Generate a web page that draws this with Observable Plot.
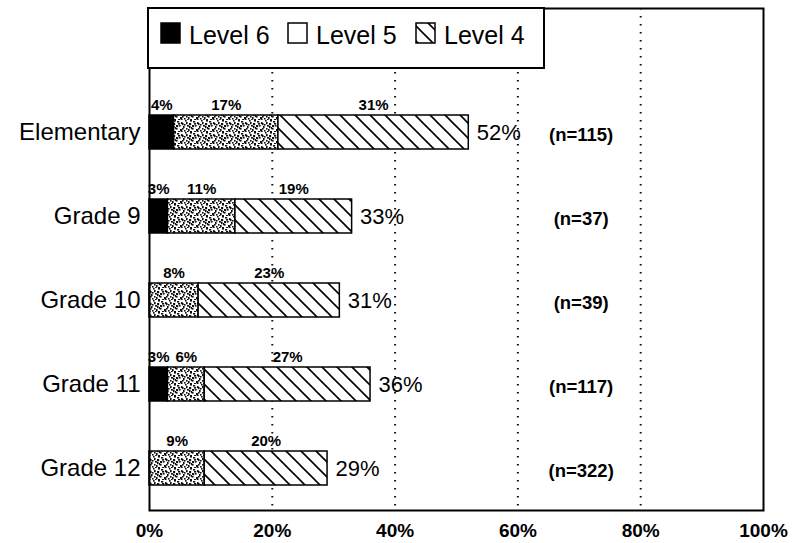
<!DOCTYPE html>
<html><head><meta charset="utf-8">
<script src="https://cdn.jsdelivr.net/npm/d3@7"></script>
<script src="https://cdn.jsdelivr.net/npm/@observablehq/plot@0.6"></script>
<style>body{margin:0;background:#fff} svg{font-family:"Liberation Sans",Arial,sans-serif}</style>
</head><body><div id="chart"></div>
<script>
const grades = ["Elementary","Grade 9","Grade 10","Grade 11","Grade 12"];
const levels = ["Level 6","Level 5","Level 4"];
const level6 = [4,3,0,3,0];
const level5 = [17,11,8,6,9];
const level4 = [31,19,23,27,20];
const totals = [52,33,31,36,29];
const counts = [115,37,39,117,322];
const xTicks = [0,20,40,60,80,100];
const gridTicks = [20,40,60,80];
const nColumnX = 70.3;

const rows = [];
grades.forEach((g,i)=>{
  [[levels[0],level6[i]],[levels[1],level5[i]],[levels[2],level4[i]]].forEach(([lv,v])=>{
    if (v>0) rows.push({grade:g, level:lv, value:v});
  });
});
const totalRows = grades.map((g,i)=>({grade:g,total:totals[i],n:counts[i]}));

const chart = Plot.plot({
  width: 793, height: 543,
  marginLeft: 149, marginRight: 30, marginTop: 8, marginBottom: 33,
  style: {fontFamily: '"Liberation Sans", Arial, sans-serif', color: "black", background: "white"},
  x: {domain:[0,100], label:null},
  y: {domain: grades, range:[89,510], paddingInner:0.6, paddingOuter:0.29, label:null},
  color: {domain: levels, range: ["#000","url(#dots5)","url(#hatch4)"]},
  marks: [
    Plot.ruleX(gridTicks, {stroke:"#111", strokeWidth:2, strokeDasharray:"1.5,6.5"}),
    Plot.axisX(xTicks, {tickSize:0, tickPadding:13, fontSize:19, fontWeight:"bold", tickFormat:d=>d+"%", label:null}),
    Plot.axisY({tickSize:0, tickPadding:9, fontSize:24, label:null}),
    Plot.barX(rows, Plot.stackX({x:"value", y:"grade", z:"level", fill:"level", stroke:"black", strokeWidth:1.5, order: levels})),
    Plot.text(rows, Plot.stackX({x:"value", y:"grade", z:"level", text:d=>d.value+"%", dy:-27, fontSize:15, fontWeight:"bold", order: levels})),
    Plot.text(totalRows, {x:"total", y:"grade", text:d=>d.total+"%", dx:8, textAnchor:"start", fontSize:22}),
    Plot.text(totalRows, {x:()=>nColumnX, y:"grade", text:d=>`(n=${d.n})`, fontSize:18.5, fontWeight:"bold", dy:3}),
    Plot.frame({stroke:"black", strokeWidth:2})
  ]
});
document.getElementById("chart").appendChild(chart);

const svg = d3.select(chart);
const defs = svg.insert("defs", ":first-child");
const dots = defs.append("pattern").attr("id","dots5").attr("patternUnits","userSpaceOnUse").attr("width",16).attr("height",12);
dots.append("rect").attr("width",16).attr("height",12).attr("fill","white");
[[1,1],[5,2],[9,0],[13,3],[3,5],[7,6],[11,5],[15,7],[0,8],[4,9],[8,10],[12,9],[2,11],[6,3],[10,8],[14,11],[6,8],[10,2],[2,3],[13,6],[8,4],[0,5],[5,11],[11,11],[14,0]].forEach(([x,y],k)=>{
  dots.append("rect").attr("x",x).attr("y",y).attr("width",k%3===0?2.2:1.6).attr("height",k%2===0?1.6:2.2).attr("fill","#111");
});
const hatch = defs.append("pattern").attr("id","hatch4").attr("patternUnits","userSpaceOnUse").attr("width",15).attr("height",15);
hatch.append("rect").attr("width",15).attr("height",15).attr("fill","white");
hatch.append("path").attr("d","M-1,-1L16,16M-2,13L2,17M13,-2L17,2").attr("stroke","black").attr("stroke-width",1.6);

// legend box inside the frame
const lg = svg.append("g");
lg.append("rect").attr("x",148).attr("y",8).attr("width",396).attr("height",60).attr("fill","white").attr("stroke","black").attr("stroke-width",2);
const items = [{x:161, fill:"#000", t:levels[0]},{x:288, fill:"white", t:levels[1]},{x:416, fill:"url(#hatch4)", t:levels[2]}];
items.forEach(it=>{
  lg.append("rect").attr("x",it.x).attr("y",23).attr("width",19).attr("height",20).attr("fill",it.fill).attr("stroke","black").attr("stroke-width",1.5);
  lg.append("text").attr("x",it.x+28).attr("y",44).style("font-size","25px").style("text-anchor","start").attr("fill","black").text(it.t);
});
</script>
</body></html>
